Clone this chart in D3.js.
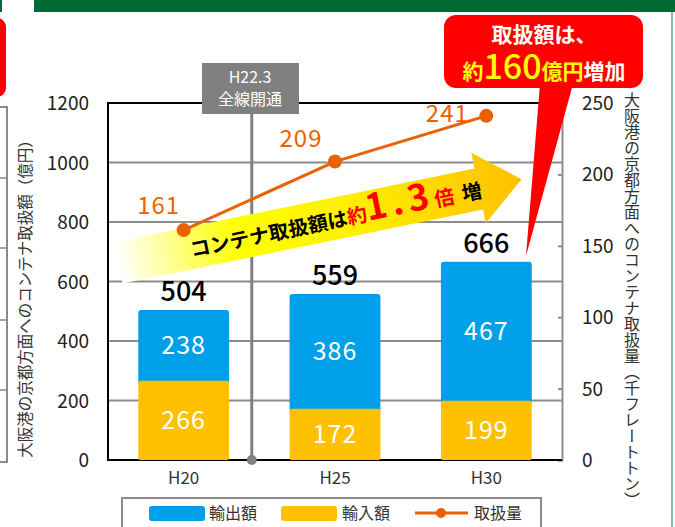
<!DOCTYPE html>
<html>
<head>
<meta charset="utf-8">
<script src="https://cdn.jsdelivr.net/npm/d3@7"></script>
<style>
  body { margin: 0; background: #fff; }
  svg { display: block; font-family: "Noto Sans CJK JP", "Noto Sans", sans-serif; }
</style>
</head>
<body>
<svg id="chart" width="675" height="527"></svg>
<script>
const categories = ['H20', 'H25', 'H30'];
const years = [20, 25, 30];
const exportValues = [238, 386, 467];   // 輸出額
const importValues = [266, 172, 199];   // 輸入額
const totals = [504, 559, 666];
const volume = [161, 209, 241];         // 取扱量
const leftTicks = [0, 200, 400, 600, 800, 1000, 1200];
const rightTicks = [0, 50, 100, 150, 200, 250];
const openingYear = 22.25;             // H22.3 全線開通

const svg = d3.select('#chart');
const plotLeft = 108, plotRight = 562, plotTop = 103, plotBottom = 460;

const x = d3.scaleBand().domain(categories).range([plotLeft, plotRight]).paddingInner(0.4).paddingOuter(0.2);
const xYear = d3.scaleLinear().domain([20, 30]).range([x('H20') + x.bandwidth() / 2, x('H30') + x.bandwidth() / 2]);
const y = d3.scaleLinear().domain([0, 1200]).range([plotBottom, plotTop]);
const y2 = d3.scaleLinear().domain([0, 250]).range([plotBottom, plotTop]);

// page decoration (cut off neighbours)
svg.append('rect').attr('x', 34).attr('y', 0).attr('width', 641).attr('height', 12).attr('fill', '#006934');
svg.append('rect').attr('x', 0).attr('y', 0).attr('width', 2).attr('height', 12).attr('fill', '#006934');
svg.append('rect').attr('x', 671).attr('y', 12).attr('width', 2).attr('height', 515).attr('fill', '#7fbf9f');
svg.append('rect').attr('x', -20).attr('y', 18).attr('width', 26).attr('height', 79).attr('rx', 9).attr('fill', '#ff0000');
svg.append('path').attr('d', 'M0,107H7V462H0').attr('fill', 'none').attr('stroke', '#666').attr('stroke-width', 1.5);
[178, 248, 320, 390].forEach(v => svg.append('line').attr('x1', 0).attr('x2', 7).attr('y1', v).attr('y2', v).attr('stroke', '#888').attr('stroke-width', 1.5));

// grid
svg.append('g').selectAll('line').data(leftTicks.filter(d => d > 0 && d < 1200)).join('line')
  .attr('x1', plotLeft).attr('x2', plotRight).attr('y1', d => y(d)).attr('y2', d => y(d))
  .attr('stroke', '#8c8c8c').attr('stroke-width', 2);

// right axis
const rAxis = svg.append('g').attr('transform', `translate(${plotRight},0)`)
  .call(d3.axisLeft(y2).tickValues(rightTicks).tickSize(4).tickFormat(''));
rAxis.selectAll('line, path').attr('stroke', '#8c8c8c').attr('stroke-width', 2);
svg.append('g').selectAll('text').data(rightTicks).join('text')
  .attr('x', 582).attr('y', d => y2(d) + 7).attr('font-size', 19).attr('fill', '#222').text(d => d);

// left tick labels
svg.append('g').selectAll('text').data(leftTicks).join('text')
  .attr('x', 89).attr('y', d => y(d) + 7).attr('text-anchor', 'end').attr('font-size', 19).attr('fill', '#222').text(d => d);

// frame
svg.append('path').attr('d', `M${plotRight},${plotTop}H${plotLeft}V${plotBottom}H${plotRight}`)
  .attr('fill', 'none').attr('stroke', '#000').attr('stroke-width', 2);

// opening line
const xo = xYear(openingYear);
svg.append('line').attr('x1', xo).attr('x2', xo).attr('y1', 110).attr('y2', plotBottom)
  .attr('stroke', '#808080').attr('stroke-width', 3);
svg.append('circle').attr('cx', xo).attr('cy', plotBottom).attr('r', 5).attr('fill', '#808080');
svg.append('rect').attr('x', 202).attr('y', 63).attr('width', 97).attr('height', 51).attr('fill', '#808080');
svg.append('text').attr('x', 250).attr('y', 83).attr('text-anchor', 'middle').attr('fill', '#fff').attr('font-size', 16).text('H22.3');
svg.append('text').attr('x', 250).attr('y', 105).attr('text-anchor', 'middle').attr('fill', '#fff').attr('font-size', 16).text('全線開通');

// bars
const bars = svg.append('g');
categories.forEach((c, i) => {
  const bx = x(c), bw = x.bandwidth();
  bars.append('rect').attr('x', bx).attr('y', y(importValues[i] + exportValues[i]))
    .attr('width', bw).attr('height', y(0) - y(exportValues[i]) + 4).attr('rx', 3).attr('fill', '#00a0e9');
  bars.append('rect').attr('x', bx).attr('y', y(importValues[i]))
    .attr('width', bw).attr('height', y(0) - y(importValues[i])).attr('rx', 2).attr('fill', '#ffc000');
  bars.append('text').attr('x', bx + bw / 2).attr('y', y(importValues[i] + exportValues[i] / 2) + 9)
    .attr('text-anchor', 'middle').attr('fill', '#fff').attr('font-size', 25).attr('letter-spacing', 1).text(exportValues[i]);
  bars.append('text').attr('x', bx + bw / 2).attr('y', y(importValues[i] / 2) + 9)
    .attr('text-anchor', 'middle').attr('fill', '#fff').attr('font-size', 25).attr('letter-spacing', 1).text(importValues[i]);
  bars.append('text').attr('x', bx + bw / 2).attr('y', y(totals[i]) - 9)
    .attr('text-anchor', 'middle').attr('fill', '#000').attr('font-size', 27).attr('font-weight', 500).text(totals[i]);
});

// x labels
svg.append('g').selectAll('text').data(categories).join('text')
  .attr('x', d => x(d) + x.bandwidth() / 2).attr('y', 484).attr('text-anchor', 'middle')
  .attr('font-size', 17).attr('fill', '#333').text(d => d);

// arrow
const defs = svg.append('defs');
const grad = defs.append('linearGradient').attr('id', 'arrowGrad')
  .attr('gradientUnits', 'userSpaceOnUse').attr('x1', 0).attr('x2', 410).attr('y1', 0).attr('y2', 0);
grad.append('stop').attr('offset', 0).attr('stop-color', '#ffffff');
grad.append('stop').attr('offset', 0.3).attr('stop-color', '#ffff00');
grad.append('stop').attr('offset', 0.6).attr('stop-color', '#ffee00');
grad.append('stop').attr('offset', 1).attr('stop-color', '#ffc000');
const arrow = svg.append('g').attr('transform', 'translate(118,262) rotate(-11.6)');
arrow.append('path').attr('d', 'M0,-20H368V-36L412,0L368,36V22H0Z').attr('fill', 'url(#arrowGrad)');
const at = arrow.append('text').attr('x', 222).attr('y', 10).attr('text-anchor', 'middle')
  .attr('font-size', 20).attr('font-weight', 700).attr('fill', '#000');
at.append('tspan').text('コンテナ取扱額は');
at.append('tspan').attr('fill', '#ff0000').text('約');
at.append('tspan').attr('fill', '#ff0000').attr('font-size', 36).attr('letter-spacing', 5).text('1.3');
at.append('tspan').attr('fill', '#ff0000').text('倍');
at.append('tspan').attr('dx', 8).text('増');

// volume line
const pts = volume.map((v, i) => [xYear(years[i]), y2(v)]);
svg.append('path').attr('d', d3.line()(pts)).attr('fill', 'none').attr('stroke', '#eb6100').attr('stroke-width', 3);
svg.append('g').selectAll('circle').data(pts).join('circle')
  .attr('cx', d => d[0]).attr('cy', d => d[1]).attr('r', 7).attr('fill', '#eb6100');
const labelOffset = [[-25, -16], [-34, -15], [-39, 6]];
svg.append('g').selectAll('text').data(volume).join('text')
  .attr('x', (d, i) => pts[i][0] + labelOffset[i][0]).attr('y', (d, i) => pts[i][1] + labelOffset[i][1])
  .attr('text-anchor', 'middle').attr('font-size', 24).attr('fill', '#eb6100').attr('letter-spacing', 1).text(d => d);

// callout
svg.append('path').attr('d', 'M540,84L573,84L526,256Z').attr('fill', '#ff0000');
svg.append('rect').attr('x', 444).attr('y', 15).attr('width', 199).attr('height', 73).attr('rx', 12).attr('fill', '#ff0000');
svg.append('text').attr('x', 544).attr('y', 42).attr('text-anchor', 'middle').attr('fill', '#fff')
  .attr('font-size', 21).attr('font-weight', 700).text('取扱額は、');
const ct = svg.append('text').attr('x', 544).attr('y', 79).attr('text-anchor', 'middle')
  .attr('font-size', 21).attr('font-weight', 700).attr('fill', '#ffff00');
ct.append('tspan').text('約');
ct.append('tspan').attr('font-size', 34).attr('font-weight', 500).text('160');
ct.append('tspan').text('億円');
ct.append('tspan').attr('fill', '#fff').text('増加');

// axis titles
svg.append('text').attr('transform', 'translate(31,295) rotate(-90)').attr('text-anchor', 'middle')
  .attr('font-size', 15.5).attr('fill', '#333').text('大阪港の京都方面へのコンテナ取扱額（億円）');
svg.append('text').attr('x', 632).attr('y', 92).style('writing-mode', 'vertical-rl')
  .attr('font-size', 16).attr('fill', '#333').text('大阪港の京都方面へのコンテナ取扱量（千フレートトン）');

// legend
const lg = svg.append('g');
lg.append('rect').attr('x', 122).attr('y', 498).attr('width', 419).attr('height', 40)
  .attr('fill', '#fff').attr('stroke', '#8c8c8c').attr('stroke-width', 2);
lg.append('rect').attr('x', 149).attr('y', 506).attr('width', 56).attr('height', 15).attr('rx', 3).attr('fill', '#00a0e9');
lg.append('text').attr('x', 209).attr('y', 519).attr('font-size', 16).attr('fill', '#333').text('輸出額');
lg.append('rect').attr('x', 281).attr('y', 506).attr('width', 56).attr('height', 15).attr('rx', 3).attr('fill', '#ffc000');
lg.append('text').attr('x', 342).attr('y', 519).attr('font-size', 16).attr('fill', '#333').text('輸入額');
lg.append('line').attr('x1', 415).attr('x2', 468).attr('y1', 513).attr('y2', 513).attr('stroke', '#eb6100').attr('stroke-width', 3);
lg.append('circle').attr('cx', 441).attr('cy', 513).attr('r', 5).attr('fill', '#eb6100');
lg.append('text').attr('x', 474).attr('y', 519).attr('font-size', 16).attr('fill', '#333').text('取扱量');
</script>
</body>
</html>
